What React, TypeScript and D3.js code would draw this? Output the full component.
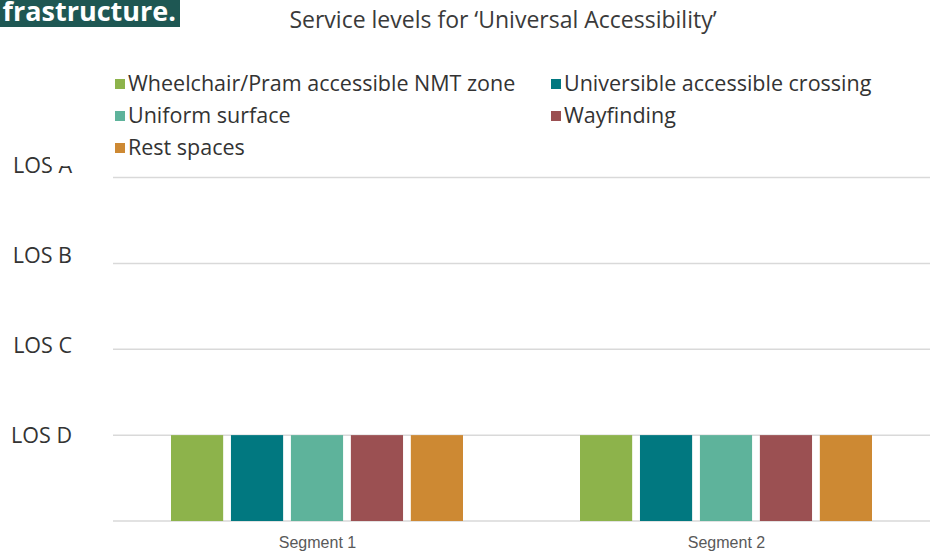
import React from "react";
import * as d3 from "d3";

const categories = ["Segment 1", "Segment 2"];
const seriesNames = [
  "Wheelchair/Pram accessible NMT zone",
  "Universible accessible crossing",
  "Uniform surface",
  "Wayfinding",
  "Rest spaces",
];
const seriesColors = ["#8db34b", "#017880", "#5eb39b", "#9b5052", "#cd8933"];
// values per series, per category (1 = LOS D, 4 = LOS A)
const wheelchairValues = [1, 1];
const crossingValues = [1, 1];
const surfaceValues = [1, 1];
const wayfindingValues = [1, 1];
const restValues = [1, 1];
const seriesValues = [wheelchairValues, crossingValues, surfaceValues, wayfindingValues, restValues];
const levelLabels = ["LOS D", "LOS C", "LOS B", "LOS A"];
const levelValues = [1, 2, 3, 4];

const W = 938;
const H = 557;

export default function App() {
  const x0 = d3.scaleBand<string>().domain(categories).range([113, 931]).paddingInner(0).paddingOuter(0);
  const bw = x0.bandwidth();
  const x1 = d3
    .scaleBand<string>()
    .domain(seriesNames)
    .range([58, bw - 59])
    .paddingInner(0.13)
    .paddingOuter(0);
  const y = d3.scaleLinear().domain([0, 4]).range([521, 177.5]);
  const yLabel = d3.scaleLinear().domain([1, 4]).range([443, 173]);

  const legendPos = [
    { x: 115, y: 91 },
    { x: 551, y: 91 },
    { x: 115, y: 123 },
    { x: 551, y: 123 },
    { x: 115, y: 155 },
  ];

  return (
    <svg
      width={W}
      height={H}
      style={{ position: "absolute", left: 0, top: 0, background: "#fff" }}
      fontFamily="'Open Sans', sans-serif"
    >
      <rect x={0} y={0} width={W} height={H} fill="#fff" />
      {/* header fragment */}
      <rect x={0} y={0} width={180} height={27} fill="#1e5753" />
      <text x={176} y={21} textAnchor="end" fill="#fff" fontSize={27} fontWeight={700}>
        frastructure.
      </text>
      <text x={503} y={28} textAnchor="middle" fill="#3a3a3a" fontSize={23}>
        Service levels for ‘Universal Accessibility’
      </text>

      {/* gridlines */}
      {[0, ...levelValues].map((v) => (
        <line key={v} x1={113} x2={930} y1={y(v)} y2={y(v)} stroke="#d9d9d9" strokeWidth={1.5} />
      ))}

      {/* y labels */}
      {levelValues.map((v, i) => (
        <text key={v} x={72} y={yLabel(v)} textAnchor="end" fill="#333" fontSize={21.5}>
          {levelLabels[i]}
        </text>
      ))}

      {/* legend background partly covering LOS A */}
      <rect x={50} y={62} width={876} height={104} fill="#fff" />
      {seriesNames.map((s, i) => (
        <g key={s} transform={`translate(${legendPos[i].x},${legendPos[i].y})`}>
          <rect x={0} y={-12} width={10} height={10} fill={seriesColors[i]} />
          <text x={13} y={0} fill="#333" fontSize={21.5}>
            {s}
          </text>
        </g>
      ))}

      {/* bars */}
      {categories.map((c, ci) => (
        <g key={c} transform={`translate(${x0(c)},0)`}>
          {seriesNames.map((s, si) => (
            <rect
              key={s}
              x={x1(s)}
              y={y(seriesValues[si][ci])}
              width={x1.bandwidth()}
              height={y(0) - y(seriesValues[si][ci])}
              fill={seriesColors[si]}
            />
          ))}
          <text
            x={bw / 2}
            y={548}
            textAnchor="middle"
            fill="#595959"
            fontSize={16}
            fontFamily="'Liberation Sans', Arial, sans-serif"
          >
            {c}
          </text>
        </g>
      ))}
    </svg>
  );
}
